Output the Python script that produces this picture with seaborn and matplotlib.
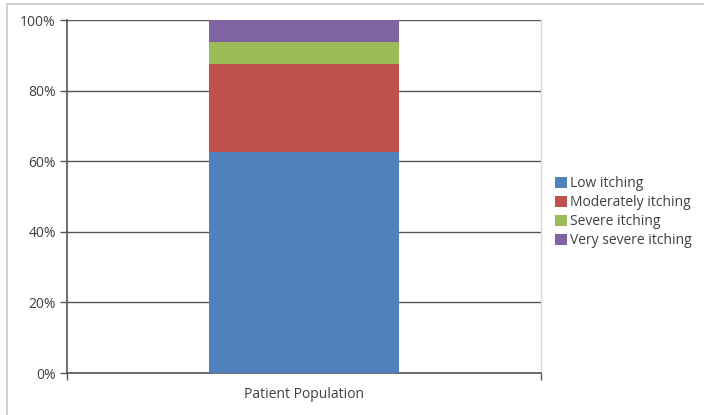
import matplotlib
matplotlib.use("Agg")
import matplotlib.pyplot as plt
import seaborn as sns
import pandas as pd
from matplotlib.patches import Patch, Rectangle

categories = ["Patient Population"]
series_names = ["Low itching", "Moderately itching", "Severe itching", "Very severe itching"]
series_values = [62.5, 25.0, 6.25, 6.25]
colors = ["#4F81BD", "#C0504D", "#9BBB59", "#8064A2"]
y_ticks = [0, 20, 40, 60, 80, 100]
y_tick_labels = ["0%", "20%", "40%", "60%", "80%", "100%"]

sns.set_theme(style="white")
plt.rcParams['font.family'] = ['Open Sans', 'DejaVu Sans']

fig = plt.figure(figsize=(7.04, 4.15), dpi=100)
ax = fig.add_axes([67/704, 42/415, (541-67)/704, (373-20)/415])

bottom = 0.0
for name, val, col in zip(series_names, series_values, colors):
    df = pd.DataFrame({"cat": categories, "val": [val]})
    sns.barplot(data=df, x="cat", y="val", color=col, bottom=bottom, width=0.4,
                saturation=1, ax=ax, zorder=3, linewidth=0)
    bottom += val

ax.set_xlim(-0.5, 0.5)
ax.set_ylim(0, 100)
ax.set_yticks(y_ticks)
ax.set_yticklabels(y_tick_labels, fontsize=10, color="#404040")
ax.set_xlabel("")
ax.set_ylabel("")
ax.tick_params(axis="x", length=0, labelsize=10, labelcolor="#404040", pad=10)
ax.set_xticks([-0.5, 0.5], minor=True)
ax.tick_params(axis="x", which="minor", length=5, width=1, color="#555555", direction="out", bottom=True)
ax.tick_params(axis="y", length=5, width=1, color="#555555", direction="out", left=True, pad=3)
ax.grid(axis="y", color="#555555", linewidth=1, zorder=0)
for s in ["left", "bottom"]:
    ax.spines[s].set_color("#555555")
    ax.spines[s].set_linewidth(1.2)
ax.spines["top"].set_visible(False)
ax.spines["right"].set_color("#d9d9d9")
ax.spines["right"].set_linewidth(1)

handles = [Patch(facecolor=c, edgecolor="none") for c in colors]
leg = fig.legend(handles, series_names, loc="upper left", bbox_to_anchor=(555/704, 1 - 176/415),
                 frameon=False, fontsize=10, handlelength=0.85, handleheight=0.85,
                 handletextpad=0.2, labelspacing=0.3, borderaxespad=0, borderpad=0)
for t in leg.get_texts():
    t.set_color("#404040")

fig.patches.append(Rectangle((7/704, -0.1), 1.0, 1 - 4/415 + 0.1, transform=fig.transFigure,
                             fill=False, edgecolor="#c8c8c8", linewidth=1.2))

fig.savefig("out.png", dpi=100)
